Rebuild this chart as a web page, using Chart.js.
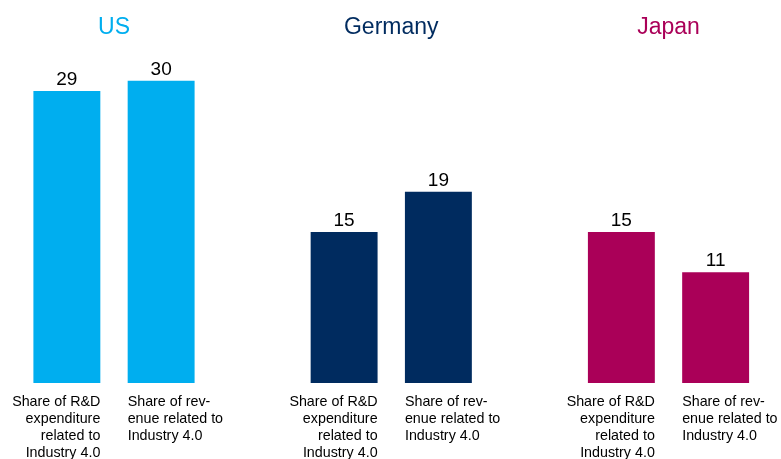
<!DOCTYPE html>
<html>
<head>
<meta charset="utf-8">
<script src="https://cdn.jsdelivr.net/npm/chart.js@4"></script>
<style>
  html, body { margin: 0; padding: 0; background: #fff; }
  #wrap { width: 781px; height: 459px; position: relative; }
</style>
</head>
<body>
<div id="wrap"><canvas id="chart" width="781" height="459"></canvas></div>
<script>
    // ── Data ──
    var countries = ["US", "Germany", "Japan"];
    var countryColors = ["#00AEEF", "#002B5F", "#AA0058"];
    var rdShare = [29, 15, 15];        // Share of R&D expenditure related to Industry 4.0
    var revenueShare = [30, 19, 11];   // Share of revenue related to Industry 4.0
    var rdLabelLines = ["Share of R&D", "expenditure", "related to", "Industry 4.0"];
    var revLabelLines = ["Share of rev-", "enue related to", "Industry 4.0"];

    var FONT = "'Liberation Sans', Arial, Helvetica, sans-serif";

    // ── Labels drawn on canvas ──
    var labelPlugin = {
        id: "labelPlugin",
        afterDatasetsDraw: function (chart) {
            var ctx = chart.ctx;
            var xs = chart.scales.x;
            var base = chart.scales.y.getPixelForValue(0);
            ctx.save();
            ctx.textBaseline = "alphabetic";

            // country titles
            ctx.font = "23px " + FONT;
            ctx.textAlign = "center";
            countries.forEach(function (c, g) {
                ctx.fillStyle = countryColors[g];
                ctx.fillText(c, xs.getPixelForValue(g), 34);
            });

            chart.data.datasets.forEach(function (ds, d) {
                var meta = chart.getDatasetMeta(d);
                var lines = d === 0 ? rdLabelLines : revLabelLines;
                meta.data.forEach(function (bar, i) {
                    // value above bar
                    ctx.fillStyle = "#000";
                    ctx.font = "19px " + FONT;
                    ctx.textAlign = "center";
                    ctx.fillText(String(ds.data[i]), bar.x, bar.y - 6);

                    // category label under bar
                    ctx.font = "14.3px " + FONT;
                    var tx;
                    if (d === 0) {
                        ctx.textAlign = "right";
                        tx = bar.x + bar.width / 2;
                    } else {
                        ctx.textAlign = "left";
                        tx = bar.x - bar.width / 2;
                    }
                    lines.forEach(function (line, k) {
                        ctx.fillText(line, tx, base + 23 + k * 17);
                    });
                });
            });
            ctx.restore();
        }
    };

    new Chart(document.getElementById("chart"), {
        type: "bar",
        data: {
            labels: countries,
            datasets: [
                {
                    label: "Share of R&D expenditure related to Industry 4.0",
                    data: rdShare,
                    backgroundColor: countryColors,
                    borderWidth: 0,
                    clip: false
                },
                {
                    label: "Share of revenue related to Industry 4.0",
                    data: revenueShare,
                    backgroundColor: countryColors,
                    borderWidth: 0,
                    clip: false
                }
            ]
        },
        options: {
            responsive: false,
            animation: false,
            events: [],
            categoryPercentage: 0.68,
            barPercentage: 0.71,
            layout: { padding: { left: 114, right: 112.5, top: 30.5, bottom: 76 } },
            scales: {
                x: { display: false, offset: false, grid: { display: false } },
                y: { display: false, min: 0, max: 35, grid: { display: false } }
            },
            plugins: {
                legend: { display: false },
                tooltip: { enabled: false },
                title: { display: false }
            }
        },
        plugins: [labelPlugin]
    });
</script>
</body>
</html>
